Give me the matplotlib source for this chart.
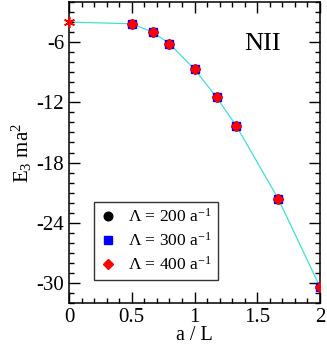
import matplotlib
matplotlib.use("Agg")
import matplotlib.pyplot as plt
from matplotlib.ticker import MultipleLocator

plt.rcParams['font.family'] = ['Liberation Serif', 'DejaVu Serif']
plt.rcParams['mathtext.fontset'] = 'custom'
plt.rcParams['mathtext.rm'] = 'Liberation Serif'
plt.rcParams['mathtext.it'] = 'Liberation Serif:italic'
plt.rcParams['mathtext.default'] = 'rm'

# data
x_vals = [0.5, 0.6667, 0.8, 1.0, 1.176, 1.3333, 1.6667, 2.0]
e_200 = [-4.17, -5.0, -6.15, -8.7, -11.5, -14.35, -21.6, -30.4]
e_300 = [-4.17, -5.0, -6.15, -8.7, -11.5, -14.35, -21.6, -30.4]
e_400 = [-4.17, -5.0, -6.15, -8.7, -11.5, -14.35, -21.6, -30.4]
x_extrap = [0.0]
e_extrap = [-4.0]
x_ticks = [0, 0.5, 1, 1.5, 2]
x_ticklabels = ['0', '0.5', '1', '1.5', '2']
y_ticks = [-6, -12, -18, -24, -30]
y_ticklabels = ['-6', '-12', '-18', '-24', '-30']
labels = [r'Λ = 200 a$^{-1}$', r'Λ = 300 a$^{-1}$', r'Λ = 400 a$^{-1}$']

fig = plt.figure(figsize=(3.27, 3.44), dpi=100)
ax = fig.add_axes([69/327, 41/344, 251/327, 301/344])

ax.plot(x_extrap + x_vals, e_extrap + e_400, color='#40e0d0', lw=0.9, zorder=1)
ax.plot(x_vals, e_200, 'o', color='black', ms=6.2, ls='none', label=labels[0], zorder=2)
ax.plot(x_vals, e_300, 's', color='blue', ms=5.6, ls='none', label=labels[1], zorder=3)
ax.plot(x_vals, e_400, 'D', color='red', ms=5.2, ls='none', label=labels[2], zorder=4)
ax.plot(x_extrap, e_extrap, marker=(6, 2, 0), color='red', ms=8, mew=1.2,
        ls='none', clip_on=False, zorder=5)

ax.set_xlim(0, 2)
ax.set_ylim(-32, -2)
ax.set_xticks(x_ticks)
ax.set_xticklabels(x_ticklabels)
ax.set_yticks(y_ticks)
ax.set_yticklabels(y_ticklabels)
ax.xaxis.set_minor_locator(MultipleLocator(0.1))
ax.yaxis.set_minor_locator(MultipleLocator(1))
ax.tick_params(which='both', direction='in', top=True, right=True, labelsize=15, width=1.0)
ax.tick_params(which='major', length=8)
ax.tick_params(which='minor', length=3.6)
for s in ax.spines.values():
    s.set_linewidth(1.1)

ax.set_xlabel('a / L', fontsize=14.5, labelpad=-0.5)
ax.set_ylabel(r'E$_3$ ma$^2$', fontsize=15, labelpad=2)

ax.text(1.54, -6.15, 'NII', fontsize=19, ha='center', va='center')

leg = ax.legend(loc='lower left', bbox_to_anchor=(0.0996, 0.0764), borderaxespad=0,
                fontsize=12.5, frameon=True, fancybox=False, handlelength=0.9,
                handletextpad=0.7, borderpad=0.35, labelspacing=0.35, numpoints=1)
leg.get_frame().set_edgecolor('black')
leg.get_frame().set_linewidth(1.0)

fig.savefig('out.png', dpi=100)
